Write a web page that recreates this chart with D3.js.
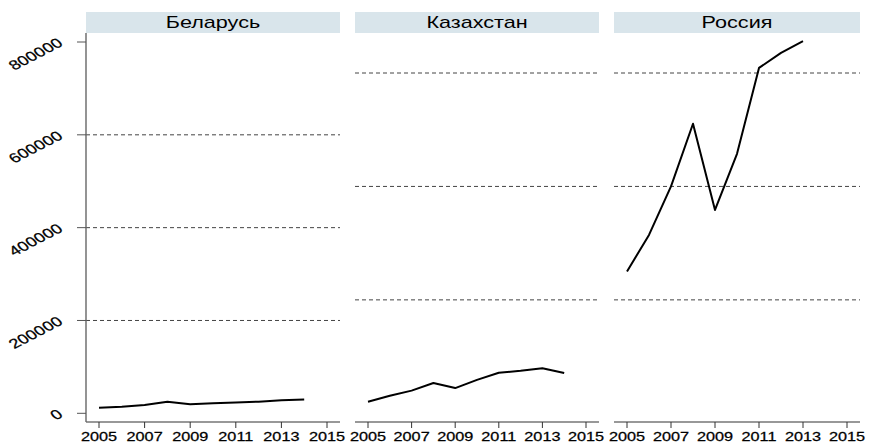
<!DOCTYPE html>
<html>
<head>
<meta charset="utf-8">
<script src="https://cdn.jsdelivr.net/npm/d3@7"></script>
<style>
  body { margin: 0; background: #fff; }
  text { font-family: "Liberation Sans", Arial, sans-serif; fill: #000; }
</style>
</head>
<body>
<svg width="886" height="445"></svg>
<script>
// data
const countries = ['Беларусь', 'Казахстан', 'Россия'];
const years = [2005, 2006, 2007, 2008, 2009, 2010, 2011, 2012, 2013, 2014];
const belarus = [12000, 14000, 18000, 25000, 19500, 21500, 23500, 25000, 28000, 29500];
const kazakhstan = [20500, 31000, 40000, 53500, 44500, 59000, 71500, 75000, 79500, 71000];
const russia = [250000, 314500, 400000, 510500, 358500, 457500, 609000, 635500, 656000];
const xTicks = [2005, 2007, 2009, 2011, 2013, 2015];
const yTicks = [0, 200000, 400000, 600000, 800000];
const gridVals = [200000, 400000, 600000];

const series = [belarus, kazakhstan, russia];

const svg = d3.select('svg');
const stretch = 1.35; // text in the picture is drawn a bit wide

// each panel: left/right edge, y scale
const panels = [
    { left: 86, right: 340, y: d3.scaleLinear().domain([0, 800000]).range([413.3, 42]) },
    { left: 355, right: 599, y: d3.scaleLinear().domain([0, 600000]).range([413.3, 73]) },
    { left: 614, right: 860, y: d3.scaleLinear().domain([0, 600000]).range([413.3, 73]) }
];
const axisY = 422;

panels.forEach((p, i) => {
    const x = d3.scaleLinear().domain([2005, 2015]).range([p.left + 13, p.right - 13]);
    const g = svg.append('g');

    // strip header
    g.append('rect')
        .attr('x', p.left).attr('y', 12)
        .attr('width', p.right - p.left).attr('height', 21)
        .attr('fill', '#d9e5eb');
    g.append('text')
        .attr('transform', `translate(${(p.left + p.right) / 2},28) scale(${stretch},1)`)
        .attr('text-anchor', 'middle')
        .style('font-size', '16px')
        .text(countries[i]);

    // dashed grid
    g.selectAll('.grid').data(gridVals).join('line')
        .attr('x1', p.left).attr('x2', p.right)
        .attr('y1', d => p.y(d)).attr('y2', d => p.y(d))
        .attr('stroke', '#444').attr('stroke-width', 1)
        .attr('stroke-dasharray', '4,3');

    // x axis
    g.append('line')
        .attr('x1', p.left).attr('x2', p.right)
        .attr('y1', axisY).attr('y2', axisY)
        .attr('stroke', '#333').attr('stroke-width', 1.2);
    g.selectAll('.xt').data(xTicks).join('line')
        .attr('x1', d => x(d)).attr('x2', d => x(d))
        .attr('y1', axisY).attr('y2', axisY + 6)
        .attr('stroke', '#333').attr('stroke-width', 1);
    g.selectAll('.xl').data(xTicks).join('text')
        .attr('transform', d => `translate(${x(d)},441) scale(1.3,1)`)
        .attr('text-anchor', 'middle')
        .attr('stroke', '#000').attr('stroke-width', 0.25)
        .style('font-size', '12.5px')
        .text(d => d);

    // y axis only on first panel
    if (i === 0) {
        g.append('line')
            .attr('x1', p.left).attr('x2', p.left)
            .attr('y1', 33).attr('y2', axisY)
            .attr('stroke', '#666').attr('stroke-width', 1.4);
        g.selectAll('.yt').data(yTicks).join('line')
            .attr('x1', p.left - 9).attr('x2', p.left)
            .attr('y1', d => p.y(d)).attr('y2', d => p.y(d))
            .attr('stroke', '#555').attr('stroke-width', 1);
        g.selectAll('.yl').data(yTicks).join('text')
            .attr('transform', d => `translate(64,${p.y(d) + 3}) scale(${stretch},1) rotate(-35)`)
            .attr('text-anchor', 'end')
            .attr('stroke', '#000').attr('stroke-width', 0.25)
            .style('font-size', '13.5px')
            .text(d => d);
    }

    // the series line
    const line = d3.line()
        .x((d, j) => x(years[j]))
        .y(d => p.y(d));
    g.append('path')
        .datum(series[i])
        .attr('d', line)
        .attr('fill', 'none')
        .attr('stroke', '#000')
        .attr('stroke-width', 2)
        .attr('stroke-linejoin', 'round');
});
</script>
</body>
</html>
